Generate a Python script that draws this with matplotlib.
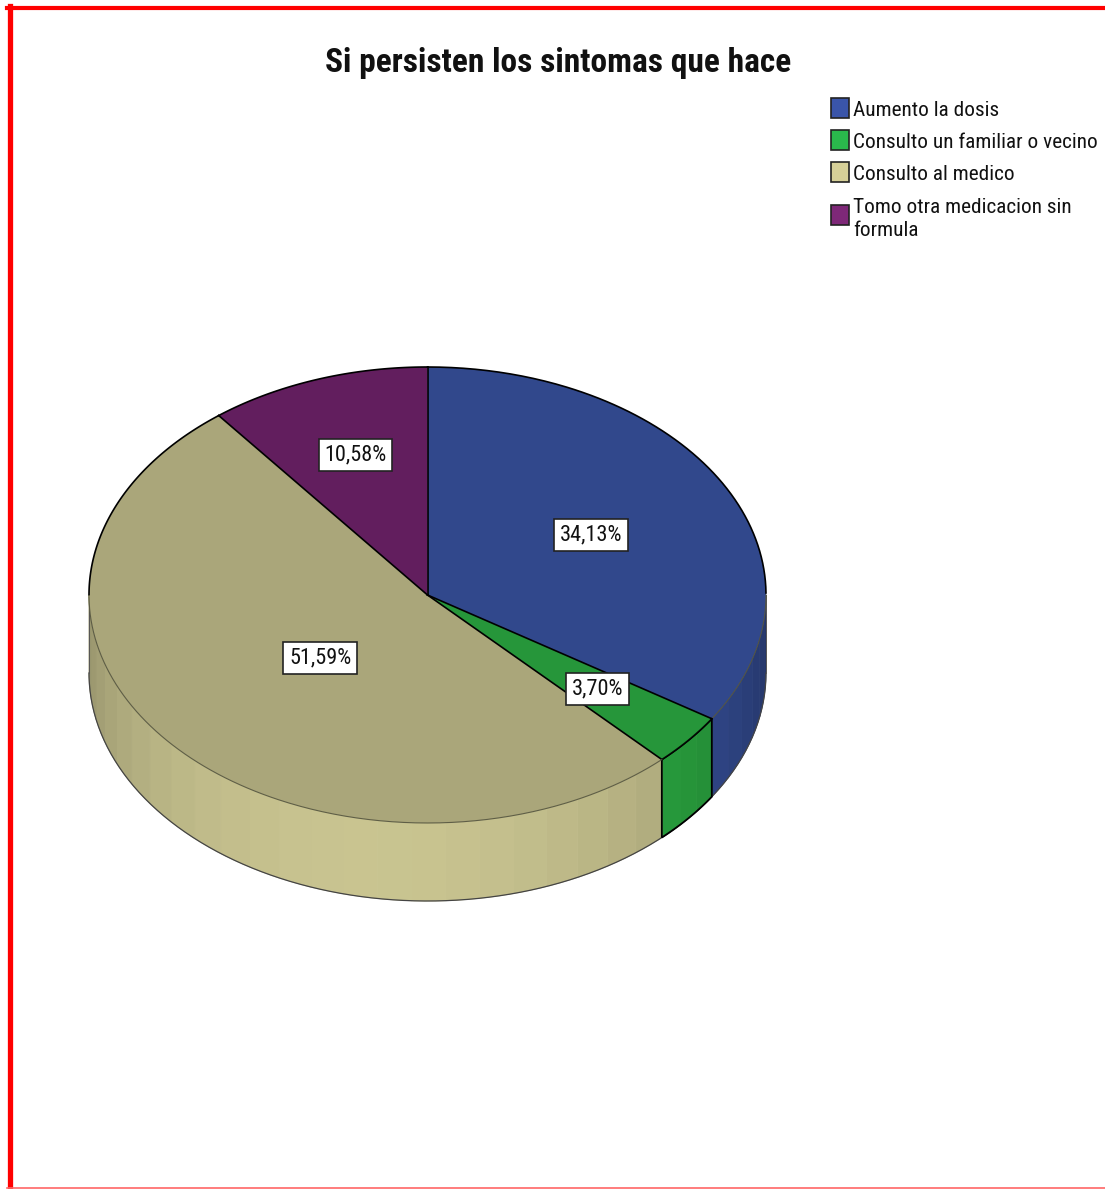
import numpy as np
import matplotlib
matplotlib.use('Agg')
import matplotlib.pyplot as plt
from matplotlib.patches import Polygon, Rectangle
from matplotlib.collections import PolyCollection
from matplotlib.lines import Line2D
import matplotlib.colors as mcolors

# ---------------- data ----------------
title = "Si persisten los sintomas que hace"
categories = ["Aumento la dosis", "Consulto un familiar o vecino",
              "Consulto al medico", "Tomo otra medicacion sin\nformula"]
percentages = [34.13, 3.70, 51.59, 10.58]
value_labels = ["34,13%", "3,70%", "51,59%", "10,58%"]
top_colors = ["#31488c", "#26963a", "#aaa67a", "#621e5e"]
legend_colors = ["#3a55aa", "#2ab84c", "#d6d098", "#7e2878"]

# ---------------- layout ----------------
W, H = 1105, 1189
FONT = ['Roboto Condensed', 'PT Sans Narrow', 'DejaVu Sans']
fig = plt.figure(figsize=(W / 100, H / 100), dpi=100)
ax = fig.add_axes([0, 0, 1, 1])
ax.set_xlim(0, W)
ax.set_ylim(H, 0)
ax.axis('off')

cx, cy, rx, ry, depth = 427.5, 595.0, 338.5, 228.0, 78.0
label_radius = [0.55, 0.65, 0.42, 0.65]


def pt(theta_deg, z=0.0):
    t = np.radians(theta_deg)
    return cx + rx * np.sin(t), cy - ry * np.cos(t) + z


def shade(color, theta):
    f = 0.80 + 0.38 * np.cos(np.radians(theta - 190))
    r, g, b = mcolors.to_rgb(color)
    return (min(r * f, 1), min(g * f, 1), min(b * f, 1))


total = sum(percentages)
angles = np.cumsum([0] + [p / total * 360 for p in percentages])

# ---- side (front, visible for 90..270) ----
step = 6.0
for i, col in enumerate(top_colors):
    a0, a1 = max(angles[i], 90), min(angles[i + 1], 270)
    if a1 <= a0:
        continue
    n = max(1, int(np.ceil((a1 - a0) / step)))
    edges = np.linspace(a0, a1, n + 1)
    polys, cols = [], []
    for j in range(n):
        ts = np.linspace(edges[j], edges[j + 1], 6)
        top = [pt(t) for t in ts]
        bot = [pt(t, depth) for t in ts[::-1]]
        polys.append(top + bot)
        cols.append(shade(col, 0.5 * (edges[j] + edges[j + 1])))
    ax.add_collection(PolyCollection(polys, facecolors=cols, edgecolors=cols,
                                     linewidths=0.6, zorder=1))
    if col == top_colors[1]:
        ts = np.linspace(a0, a1, 20)
        outline = [pt(t) for t in ts] + [pt(t, depth) for t in ts[::-1]]
        ax.add_patch(Polygon(outline, closed=True, fill=False,
                             edgecolor='black', lw=1.3, zorder=3))

# silhouette of side
ts = np.linspace(90, 270, 200)
bx, by = zip(*[pt(t, depth) for t in ts])
ax.plot(bx, by, color='#444444', lw=0.9, zorder=2)
for t in (90, 270):
    x0, y0 = pt(t)
    ax.plot([x0, x0], [y0, y0 + depth], color='#555555', lw=0.7, zorder=2)

# ---- top wedges ----
for i, col in enumerate(top_colors):
    ts = np.linspace(angles[i], angles[i + 1], max(3, int(angles[i + 1] - angles[i]) * 2))
    poly = [(cx, cy)] + [pt(t) for t in ts]
    ax.add_patch(Polygon(poly, closed=True, facecolor=col, edgecolor='none', zorder=4))
    x1, y1 = pt(angles[i])
    ax.plot([cx, x1], [cy, y1], color='black', lw=1.2, zorder=5)
    back = [t for t in ts if not (90 < t < 270)]
    front = [t for t in ts if 90 <= t <= 270]
    if len(back) > 1:
        segs = np.split(np.array(back), np.where(np.diff(back) > 5)[0] + 1)
        for s in segs:
            if len(s) > 1:
                px, py = zip(*[pt(t) for t in s])
                ax.plot(px, py, color='black', lw=1.2, zorder=5)
    if len(front) > 1:
        px, py = zip(*[pt(t) for t in front])
        lc = 'black' if col == top_colors[1] else '#55553f'
        ax.plot(px, py, color=lc, lw=0.8 if lc != 'black' else 1.2, zorder=5,
                alpha=0.9)

# ---- value labels ----
for i, lab in enumerate(value_labels):
    mid = 0.5 * (angles[i] + angles[i + 1])
    t = np.radians(mid)
    f = label_radius[i]
    x = cx + f * rx * np.sin(t)
    y = cy - f * ry * np.cos(t)
    ax.text(x, y, lab, ha='center', va='center', fontsize=16, family=FONT,
            color='#111111', zorder=8,
            bbox=dict(boxstyle='square,pad=0.25', facecolor='white',
                      edgecolor='#222222', lw=1.2))

# ---- title ----
ax.text(558, 63, title, ha='center', va='center', fontsize=24,
        fontweight='bold', family=FONT, color='#111111')

# ---- legend ----
leg_y = [108, 140, 172, 215]
txt_y = [111, 142, 175, 219]
for i, (cat, col) in enumerate(zip(categories, legend_colors)):
    ax.add_patch(Rectangle((831, leg_y[i] - 10), 18, 20, facecolor=col,
                           edgecolor='#222222', lw=1.2, zorder=6))
    ax.text(853, txt_y[i], cat, ha='left', va='center', fontsize=15.3,
            family=FONT, color='#111111', linespacing=1.3)

# ---- red frame ----
fig.add_artist(Line2D([9.5 / W, 9.5 / W], [0, 1 - 6 / H], color='red', lw=3.8,
                      transform=fig.transFigure))
fig.add_artist(Line2D([7 / W, 1], [1 - 8 / H, 1 - 8 / H], color='red', lw=3.0,
                      transform=fig.transFigure))
fig.add_artist(Line2D([7 / W, 1], [1 - 1188 / H, 1 - 1188 / H], color='#ff6666',
                      lw=1.2, transform=fig.transFigure))

fig.savefig('out.png', dpi=100)
